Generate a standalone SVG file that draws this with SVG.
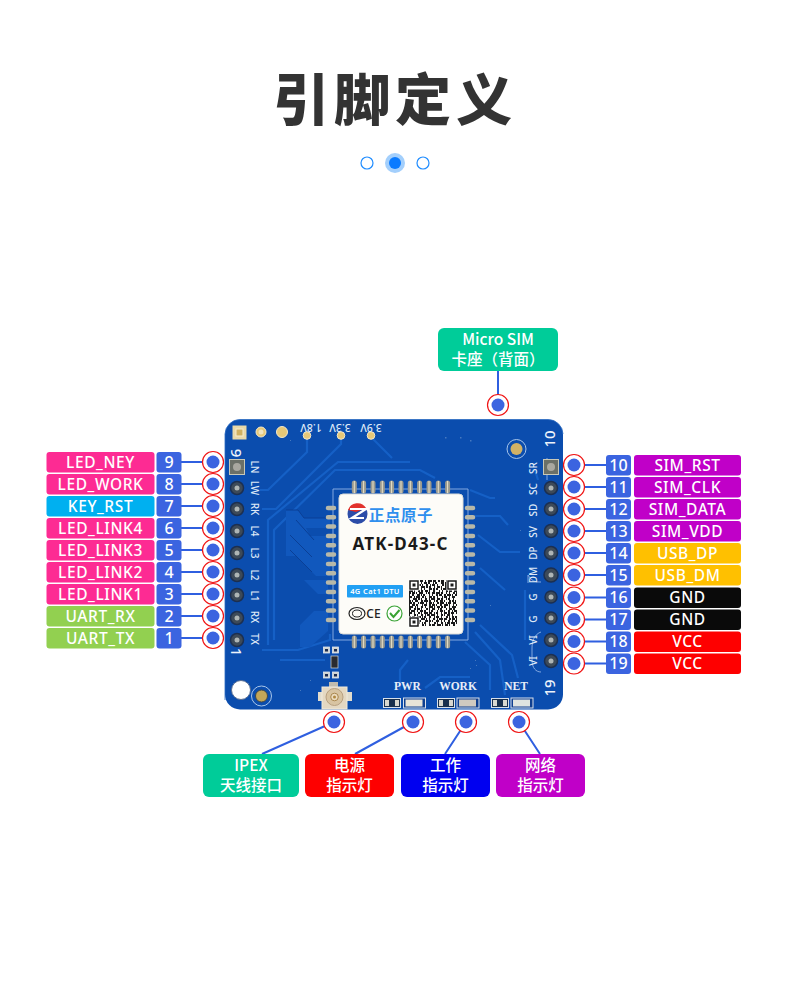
<svg xmlns="http://www.w3.org/2000/svg" width="790" height="1000" viewBox="0 0 790 1000">
<style>
text{font-family:"Noto Sans","Noto Sans CJK SC",sans-serif}
.lb{font-size:15.5px;fill:#fff;text-anchor:middle;font-weight:500;letter-spacing:.6px;font-family:"Noto Sans","Noto Sans CJK SC",sans-serif}
.num{font-size:16px;fill:#fff;text-anchor:middle;font-weight:500}
.cn{font-size:15.5px;fill:#fff;text-anchor:middle;font-weight:500;font-family:"Noto Sans CJK SC",sans-serif}
.ring{fill:#fff;stroke:#f01414;stroke-width:1.2}
.dot{fill:#3b64e0}
.n{fill:#3b64e0}
.wire{stroke:#2f5fe0;stroke-width:2;fill:none}
.silk{font-size:10px;fill:#dfe9f7;text-anchor:middle;font-weight:500}
.big{font-size:15px;fill:#eef3fb;text-anchor:middle;font-weight:500}
.pcbt{font-family:"Liberation Serif",serif;font-size:11.5px;font-weight:bold;fill:#e8eef8;text-anchor:middle}
.tr{fill:none;stroke:#1560c6;stroke-width:2.2}
.tr2{fill:none;stroke:#0a3f96;stroke-width:1}
.pad{fill:#9a9c94;stroke:#e4e0c8;stroke-width:1}
.pin{fill:#3d4a58;stroke:#1c2f50;stroke-width:1.5}
.pinc{fill:#aeb5b5}
.gold{fill:#e6c878;stroke:#f4e8c8;stroke-width:1}
.sl{fill:none;stroke:#8fb2e6;stroke-width:.9}
.qr{fill:none;stroke:#1a1a1a;stroke-width:1.9}
</style>
<rect width="790" height="1000" fill="#fff"/>
<g id="title">
<text x="395" y="120" text-anchor="middle" style="font-family:'Noto Sans CJK SC',sans-serif;font-weight:900;font-size:56px;letter-spacing:5px;fill:#333">引脚定义</text>
<circle cx="367" cy="163" r="6" fill="#fff" stroke="#1f8cff" stroke-width="1.2"/>
<circle cx="395" cy="163" r="10" fill="#a3cffc"/>
<circle cx="395" cy="163" r="6" fill="#0a7bff"/>
<circle cx="423" cy="163" r="6" fill="#fff" stroke="#1f8cff" stroke-width="1.2"/>
</g>
<g id="board">
<rect x="225" y="419.5" width="338" height="290" rx="15" fill="#0b4dae"/>
<path d="M225,700V434a15,15 0 0 1 15,-14.500h308a15,15 0 0 1 15,14.500" fill="none" stroke="#2b6bc2" stroke-width=".8"/>
<g class="traces">
<path class="tr" d="M307,437V452L268,490H260"/>
<path class="tr" d="M341,437V444L276,509H262"/>
<path class="tr" d="M371,437L392,458"/>
<path class="tr" d="M274,640V530L335,470H420L435,478"/>
<path class="tr" d="M268,645V520L338,462H410"/>
<path class="tr" d="M262,650H298L330,640V634"/>
<path class="tr" d="M280,660H325"/>
<path class="tr" d="M470,490L490,498H495"/>
<path class="tr" d="M475,516H500L508,525"/>
<path class="tr" d="M478,535L500,552H520"/>
<path class="tr" d="M480,568L505,590"/>
<path class="tr" d="M465,642L490,665V690"/>
<path class="tr" d="M475,632L500,660L505,695"/>
<path class="tr" d="M480,625L512,655L518,678"/>
<path class="tr" d="M400,690V670L408,660"/>
<path class="tr" d="M425,688L440,677H470"/>
<path class="tr" d="M535,470L538,480M525,590V640"/>
<path fill="#1158bd" d="M286,510h12l6,8h26v10h-24l4,8h20v40h-14l-20,-20h-10zM304,580h24v14h-10zM300,625l14,-14h14v20l-18,16h-10z"/>
<path class="tr2" d="M286,510h12l6,8h26M290,535l22,22M290,550l22,22M296,520l18,20"/>
<path class="sl" d="M333,489H468V640H333Z"/>
<path class="sl" d="M547,458V480M528,583V575A13,13 0 0 0 541,582M541,632C535,634 532,640 532,648V660C532,668 536,672 541,672"/>
<path fill="#8fb0d8" fill-opacity=".45" d="M290,440h1v1h-1zM470,440h1.500v1.500h-1.500zM445,437h1.500v1.500h-1.500zM460,437h1.500v1.500h-1.500zM490,605h1v1h-1zM475,660h1v1h-1zM476,665h1v1h-1zM470,668h1v1h-1zM300,690h1v1h-1zM310,680h1v1h-1zM520,530h1v1h-1z"/>
</g>
<g id="header-left">
<rect x="232.500" y="425.500" width="14" height="14" fill="#e8d8a8"/>
<rect x="236" y="429" width="7" height="7" fill="#d0b060" stroke="#f5ecd0"/>
<circle cx="261" cy="432" r="5" class="gold" stroke-width="2"/><circle cx="261" cy="432" r="2.500" fill="#f0e4c0"/>
<circle cx="282" cy="432" r="5.500" class="gold"/>
<circle cx="341" cy="435.500" r="3.800" class="gold"/><circle cx="307" cy="435.500" r="3.800" class="gold"/><circle cx="371" cy="435.500" r="3.800" class="gold"/>
<text class="silk" transform="rotate(180 311 424)" x="311" y="424" style="font-size:10.5px">1.8V</text>
<text class="silk" transform="rotate(180 340 424)" x="340" y="424" style="font-size:10.5px">3.3V</text>
<text class="silk" transform="rotate(180 371 424)" x="371" y="424" style="font-size:10.5px">3.9V</text>
<circle cx="516.500" cy="449" r="9.500" fill="#0b4dae" stroke="#a9c6ea"/><circle cx="516.500" cy="449" r="6" fill="#d2b266"/>
<circle cx="241" cy="690" r="9.500" fill="#fff" stroke="#5b6f92" stroke-width="1"/>
<circle cx="261.500" cy="696" r="10" fill="#0b4dae" stroke="#a9c6ea"/><circle cx="261.500" cy="696" r="6" fill="#c3a658" stroke="#41484a"/>
</g>
<g id="pins-left">
<rect x="229.500" y="459.500" width="15" height="15" fill="#6b7068" stroke="#c8c8b8"/><circle cx="237" cy="467" r="4" fill="#a9a8a0"/>
<g><circle cx="237" cy="488" r="6.500" class="pin"/><circle cx="237" cy="488" r="2.500" class="pinc"/></g>
<g><circle cx="237" cy="509" r="6.500" class="pin"/><circle cx="237" cy="509" r="2.500" class="pinc"/></g>
<g><circle cx="237" cy="531" r="6.500" class="pin"/><circle cx="237" cy="531" r="2.500" class="pinc"/></g>
<g><circle cx="237" cy="553" r="6.500" class="pin"/><circle cx="237" cy="553" r="2.500" class="pinc"/></g>
<g><circle cx="237" cy="575" r="6.500" class="pin"/><circle cx="237" cy="575" r="2.500" class="pinc"/></g>
<g><circle cx="237" cy="595" r="6.500" class="pin"/><circle cx="237" cy="595" r="2.500" class="pinc"/></g>
<g><circle cx="237" cy="618" r="6.500" class="pin"/><circle cx="237" cy="618" r="2.500" class="pinc"/></g>
<g><circle cx="237" cy="640" r="6.500" class="pin"/><circle cx="237" cy="640" r="2.500" class="pinc"/></g>
<text class="silk" transform="rotate(90 254 467)" x="254" y="470.500">LN</text>
<text class="silk" transform="rotate(90 254 488)" x="254" y="491.500">LW</text>
<text class="silk" transform="rotate(90 254 509)" x="254" y="512.500">RK</text>
<text class="silk" transform="rotate(90 254 531)" x="254" y="534.500">L4</text>
<text class="silk" transform="rotate(90 254 553)" x="254" y="556.500">L3</text>
<text class="silk" transform="rotate(90 254 575)" x="254" y="578.500">L2</text>
<text class="silk" transform="rotate(90 254 596)" x="254" y="599.500">L1</text>
<text class="silk" transform="rotate(90 254 617)" x="254" y="620.500">RX</text>
<text class="silk" transform="rotate(90 254 639)" x="254" y="642.500">TX</text>
<text class="big" transform="rotate(90 236 453)" x="236" y="458">9</text>
<text class="big" transform="rotate(90 236 652)" x="236" y="657">1</text>
</g>
<g id="pins-right">
<rect x="543.500" y="459.500" width="15" height="15" fill="#6b7068" stroke="#c8c8b8"/><circle cx="551" cy="467" r="4" fill="#a9a8a0"/>
<g><circle cx="551" cy="488" r="6.500" class="pin"/><circle cx="551" cy="488" r="2.500" class="pinc"/></g>
<g><circle cx="551" cy="509" r="6.500" class="pin"/><circle cx="551" cy="509" r="2.500" class="pinc"/></g>
<g><circle cx="551" cy="531" r="6.500" class="pin"/><circle cx="551" cy="531" r="2.500" class="pinc"/></g>
<g><circle cx="551" cy="553" r="6.500" class="pin"/><circle cx="551" cy="553" r="2.500" class="pinc"/></g>
<g><circle cx="551" cy="575" r="7" class="pin"/><circle cx="551" cy="575" r="2.500" class="pinc"/></g>
<g><circle cx="551" cy="597" r="6" class="pin"/><circle cx="551" cy="597" r="2.500" class="pinc"/></g>
<g><circle cx="551" cy="618" r="6" class="pin"/><circle cx="551" cy="618" r="2.500" class="pinc"/></g>
<g><circle cx="551" cy="640" r="6.500" class="pin"/><circle cx="551" cy="640" r="2.500" class="pinc"/></g>
<g><circle cx="551" cy="661" r="6.500" class="pin"/><circle cx="551" cy="661" r="2.500" class="pinc"/></g>
<text class="silk" transform="rotate(-90 533 468)" x="533" y="471.500">SR</text>
<text class="silk" transform="rotate(-90 533 489)" x="533" y="492.500">SC</text>
<text class="silk" transform="rotate(-90 533 510)" x="533" y="513.500">SD</text>
<text class="silk" transform="rotate(-90 533 532)" x="533" y="535.500">SV</text>
<text class="silk" transform="rotate(-90 533 553)" x="533" y="556.500">DP</text>
<text class="silk" transform="rotate(-90 533 575)" x="533" y="578.500">DM</text>
<text class="silk" transform="rotate(-90 533 597)" x="533" y="600.500">G</text>
<text class="silk" transform="rotate(-90 533 619)" x="533" y="622.500">G</text>
<text class="silk" transform="rotate(-90 533 640)" x="533" y="643.500">VI</text>
<text class="silk" transform="rotate(-90 533 661)" x="533" y="664.500">VI</text>
<text class="big" transform="rotate(-90 550 439)" x="550" y="444">10</text>
<text class="big" transform="rotate(-90 550 688)" x="550" y="693">19</text>
</g>
<g id="module-pads">
<path stroke="#9a9a90" stroke-width="5" stroke-linecap="round" fill="none" d="M354.300,483v8M363.600,483v8M373,483v8M382.300,483v8M391.600,483v8M401,483v8M410.300,483v8M419.600,483v8M429,483v8M438.300,483v8M447.600,483v8M354.300,638v8M363.600,638v8M373,638v8M382.300,638v8M391.600,638v8M401,638v8M410.300,638v8M419.600,638v8M429,638v8M438.300,638v8M447.600,638v8"/>
<path stroke="#e8e2c8" stroke-width="1" fill="none" d="M354.300,481v12M363.600,481v12M373,481v12M382.300,481v12M391.600,481v12M401,481v12M410.300,481v12M419.600,481v12M429,481v12M438.300,481v12M447.600,481v12M354.300,636v12M363.600,636v12M373,636v12M382.300,636v12M391.600,636v12M401,636v12M410.300,636v12M419.600,636v12M429,636v12M438.300,636v12M447.600,636v12"/>
<path stroke="#b8b8a8" stroke-width="4.500" stroke-linecap="round" fill="none" d="M328,508h6M328,517.300h6M328,526.600h6M328,536h6M328,545.300h6M328,554.600h6M328,564h6M328,573.300h6M328,582.600h6M328,592h6M328,601.300h6M328,610.600h6M328,620h6M467,508h6M467,517.300h6M467,526.600h6M467,536h6M467,545.300h6M467,554.600h6M467,564h6M467,573.300h6M467,582.600h6M467,592h6M467,601.300h6M467,610.600h6M467,620h6"/>
</g>
<g id="module">
<rect x="339" y="494" width="124" height="140" rx="4" fill="#fdfcf8" stroke="#dcdcd8"/>
<circle cx="357.500" cy="514" r="10" fill="#2b4ca8"/>
<path d="M348,510A10,10 0 0 1 366,508L356,512Z" fill="#e2322c"/>
<path d="M350,509H366L352,518H364" fill="none" stroke="#fff" stroke-width="2.200"/>
<text x="401" y="520.500" text-anchor="middle" style="font-family:'Noto Sans CJK SC',sans-serif;font-weight:700;font-size:15.500px;letter-spacing:.6px;fill:#2f8fee">正点原子</text>
<text x="400.500" y="550" text-anchor="middle" style="font-weight:700;font-size:17px;letter-spacing:1.2px;fill:#1a1a1a">ATK-D43-C</text>
<rect x="347" y="585" width="56" height="12.500" rx="1" fill="#22a0f4"/>
<text x="375" y="594" text-anchor="middle" style="font-weight:600;font-size:7.500px;letter-spacing:.4px;fill:#fff">4G Cat1 DTU</text>
<ellipse cx="357" cy="613.500" rx="8" ry="6" fill="none" stroke="#222" stroke-width="1.200"/>
<ellipse cx="357" cy="613.500" rx="4.500" ry="3.500" fill="none" stroke="#222" stroke-width="1"/>
<text x="373.500" y="618" text-anchor="middle" style="font-weight:500;font-size:12px;fill:#222">CE</text>
<circle cx="394.500" cy="613.500" r="7.500" fill="#fff" stroke="#3aa335" stroke-width="1.200"/>
<path d="M390,613l3.500,4l6,-7" fill="none" stroke="#3aa335" stroke-width="2"/>
<g id="qr">
<path class="qr" stroke-dasharray="2 2 1 3 2 1 3 2 1 2 4 1 3 2 2 1 3 2 4" d="M409,581h48"/>
<path class="qr" stroke-dasharray="1 3 2 1 1 4 1 2 3 1 2 3 1 1 2 4 3 1 2 2 3 1" d="M409,583h48"/>
<path class="qr" stroke-dasharray="3 1 2 2 4 1 1 3 2 2 1 1 3 2 1 4 2 1 3 1 2 3" d="M409,585h48"/>
<path class="qr" stroke-dasharray="2 3 1 1 3 2 4 1 2 1 2 3 1 2 3 1 1 3 2 2 4 1" d="M409,587h48"/>
<path class="qr" stroke-dasharray="1 1 3 2 2 3 1 2 1 4 3 1 2 1 2 3 1 1 4 2 2 1" d="M409,589h48"/>
<path class="qr" stroke-dasharray="4 1 1 3 2 1 2 2 3 1 1 3 2 4 1 2 1 3 2 1 3 2" d="M409,591h48"/>
<path class="qr" stroke-dasharray="2 1 3 1 1 2 4 3 1 1 2 2 3 1 4 1 2 3 1 2 1 3" d="M409,593h48"/>
<path class="qr" stroke-dasharray="1 2 2 3 3 1 1 1 2 4 1 2 1 3 2 1 3 2 2 1 4 1" d="M409,595h48"/>
<path class="qr" stroke-dasharray="3 2 1 1 4 2 2 1 1 3 3 1 2 2 1 4 1 1 3 2 1 2" d="M409,597h48"/>
<path class="qr" stroke-dasharray="1 3 4 1 2 1 1 3 2 2 1 1 4 2 3 1 2 3 1 1 2 3" d="M409,599h48"/>
<path class="qr" stroke-dasharray="2 1 1 2 3 3 2 1 4 1 2 3 1 1 2 2 3 1 1 4 2 1" d="M409,601h48"/>
<path class="qr" stroke-dasharray="3 1 2 3 1 1 4 2 1 2 3 1 1 3 2 1 4 2 1 1 3 2" d="M409,603h48"/>
<path class="qr" stroke-dasharray="1 2 3 1 2 4 1 1 3 2 2 1 3 1 1 3 2 2 4 1 1 3" d="M409,605h48"/>
<path class="qr" stroke-dasharray="4 2 1 1 1 3 2 2 1 3 4 1 1 2 3 1 2 1 2 3 1 2" d="M409,607h48"/>
<path class="qr" stroke-dasharray="2 3 2 1 3 1 1 4 2 1 1 2 3 3 1 1 2 4 1 2 3 1" d="M409,609h48"/>
<path class="qr" stroke-dasharray="1 1 4 2 1 2 3 1 2 3 1 1 2 4 1 2 3 1 1 3 2 2" d="M409,611h48"/>
<path class="qr" stroke-dasharray="3 2 1 3 2 1 1 2 4 1 3 2 1 1 2 3 1 2 3 1 2 1" d="M409,613h48"/>
<path class="qr" stroke-dasharray="1 4 2 1 1 3 2 2 1 1 3 1 4 2 1 3 2 1 1 2 3 2" d="M409,615h48"/>
<path class="qr" stroke-dasharray="2 1 3 2 4 1 1 1 2 3 2 3 1 1 3 2 1 4 2 1 1 2" d="M409,617h48"/>
<path class="qr" stroke-dasharray="3 1 1 2 2 3 4 1 1 2 1 3 2 2 1 1 4 1 3 2 2 1" d="M409,619h48"/>
<path class="qr" stroke-dasharray="1 2 2 1 3 1 2 4 3 1 2 1 1 3 3 2 1 2 1 3 2 2" d="M409,621h48"/>
<path class="qr" stroke-dasharray="4 1 2 3 1 2 1 1 2 3 1 4 2 1 1 3 2 2 1 1 3 1" d="M409,623h48"/>
<path class="qr" stroke-dasharray="2 2 1 1 3 4 2 1 1 3 2 1 3 2 4 1 1 2 3 1 1 3" d="M409,625h48"/>
<g fill="#fff" stroke="none">
<rect x="408.500" y="579.500" width="11" height="11"/><rect x="446.500" y="579.500" width="11" height="11"/><rect x="408.500" y="616.500" width="11" height="11"/>
</g>
<g fill="none" stroke="#1a1a1a" stroke-width="1.500">
<rect x="410" y="581" width="8" height="8"/><rect x="448" y="581" width="8" height="8"/><rect x="410" y="618" width="8" height="8"/>
</g>
<g fill="#1a1a1a"><rect x="412.500" y="583.500" width="3" height="3"/><rect x="450.500" y="583.500" width="3" height="3"/><rect x="412.500" y="620.500" width="3" height="3"/></g>
</g>
</g>
<g id="parts">
<g fill="#d0d4d0" stroke="#dfe6ef" stroke-width=".8">
<rect x="323.500" y="647" width="6" height="6"/><rect x="332.500" y="647" width="6" height="6"/>
<rect x="323.500" y="672" width="6" height="6"/><rect x="332.500" y="672" width="6" height="6"/>
</g>
<g fill="#1c2c50"><rect x="325" y="649" width="3" height="2.500"/><rect x="334" y="649" width="3" height="2.500"/><rect x="325" y="674" width="3" height="2.500"/><rect x="334" y="674" width="3" height="2.500"/></g>
<rect x="331" y="656" width="7" height="12" fill="#2a2c30" stroke="#d8dcd8" stroke-width=".7"/>
<g id="ipex-connector">
<rect x="318" y="692" width="5" height="9" fill="#e2dccc"/><rect x="346" y="692" width="6" height="9" fill="#e2dccc"/>
<rect x="329" y="682" width="9" height="8" fill="#c2bcae"/>
<rect x="322" y="687" width="25" height="22" fill="#e4d8c2" stroke="#f0eadc"/>
<circle cx="334.500" cy="697" r="8.500" fill="#d8c4a2" stroke="#b8a080"/>
<circle cx="334.500" cy="697" r="3.800" fill="#ecdcc0" stroke="#aa8850"/><circle cx="334.500" cy="697" r="1.500" fill="#b08840"/>
</g>
<text class="pcbt" x="407.500" y="689.500">PWR</text>
<text class="pcbt" x="458" y="689.500">WORK</text>
<text class="pcbt" x="516" y="689.500">NET</text>
<g id="indicator-parts">
<rect x="383.500" y="698.500" width="17" height="9" fill="#18304e" stroke="#d8e0ea"/><rect x="385" y="700" width="4" height="6" fill="#d8d8d0"/><rect x="395" y="700" width="4" height="6" fill="#d8d8d0"/>
<rect x="403.500" y="698" width="22" height="10" fill="#0e3f90" stroke="#d8e0ea"/><rect x="405.500" y="699.500" width="17" height="7" fill="#e8e4d8"/>
<rect x="437.500" y="698.500" width="17" height="9" fill="#18304e" stroke="#d8e0ea"/><rect x="439" y="700" width="4" height="6" fill="#d8d8d0"/><rect x="449" y="700" width="4" height="6" fill="#d8d8d0"/>
<rect x="457" y="698" width="22" height="10" fill="#0e3f90" stroke="#d8e0ea"/><rect x="459" y="699.500" width="17" height="7" fill="#cfcac0"/>
<rect x="491.500" y="698.500" width="17" height="9" fill="#18304e" stroke="#d8e0ea"/><rect x="493" y="700" width="4" height="6" fill="#d8d8d0"/><rect x="503" y="700" width="4" height="6" fill="#d8d8d0"/>
<rect x="511" y="698" width="22" height="10" fill="#0e3f90" stroke="#d8e0ea"/><rect x="513" y="699.500" width="17" height="7" fill="#dfe4e0"/>
</g>
</g>
</g>
<g id="connectors">
<path class="wire" d="M181,462H213M181,484H213M181,506H213M181,528H213M181,550H213M181,572H213M181,594H213M181,616H213M181,638H213"/>
<path class="wire" d="M574,465H606M574,487H606M574,509H606M574,531H606M574,553H606M574,575H606M574,597.500H606M574,619.500H606M574,641.500H606M574,663.500H606"/>
<path class="wire" d="M498,371V405M334,722L262,754M413,722L355,754M466,722L445,754M519,722L540,754" stroke-width="2.200"/>
</g>
<g id="pin-9"><rect x="46.500" y="452" width="108" height="20.500" rx="3" fill="#fd2b93"/><text class="lb" x="100.500" y="467.500">LED_NEY</text><rect x="156.500" y="452" width="25" height="20.500" rx="3" class="n"/><text class="num" x="169" y="467.500">9</text><circle class="ring" cx="213" cy="462" r="10.500"/><circle class="dot" cx="213" cy="462" r="6.500"/></g>
<g id="pin-8"><rect x="46.500" y="474" width="108" height="20.500" rx="3" fill="#fd2b93"/><text class="lb" x="100.500" y="489.500">LED_WORK</text><rect x="156.500" y="474" width="25" height="20.500" rx="3" class="n"/><text class="num" x="169" y="489.500">8</text><circle class="ring" cx="213" cy="484" r="10.500"/><circle class="dot" cx="213" cy="484" r="6.500"/></g>
<g id="pin-7"><rect x="46.500" y="496" width="108" height="20.500" rx="3" fill="#00b0f0"/><text class="lb" x="100.500" y="511.500">KEY_RST</text><rect x="156.500" y="496" width="25" height="20.500" rx="3" class="n"/><text class="num" x="169" y="511.500">7</text><circle class="ring" cx="213" cy="506" r="10.500"/><circle class="dot" cx="213" cy="506" r="6.500"/></g>
<g id="pin-6"><rect x="46.500" y="518" width="108" height="20.500" rx="3" fill="#fd2b93"/><text class="lb" x="100.500" y="533.500">LED_LINK4</text><rect x="156.500" y="518" width="25" height="20.500" rx="3" class="n"/><text class="num" x="169" y="533.500">6</text><circle class="ring" cx="213" cy="528" r="10.500"/><circle class="dot" cx="213" cy="528" r="6.500"/></g>
<g id="pin-5"><rect x="46.500" y="540" width="108" height="20.500" rx="3" fill="#fd2b93"/><text class="lb" x="100.500" y="555.500">LED_LINK3</text><rect x="156.500" y="540" width="25" height="20.500" rx="3" class="n"/><text class="num" x="169" y="555.500">5</text><circle class="ring" cx="213" cy="550" r="10.500"/><circle class="dot" cx="213" cy="550" r="6.500"/></g>
<g id="pin-4"><rect x="46.500" y="562" width="108" height="20.500" rx="3" fill="#fd2b93"/><text class="lb" x="100.500" y="577.500">LED_LINK2</text><rect x="156.500" y="562" width="25" height="20.500" rx="3" class="n"/><text class="num" x="169" y="577.500">4</text><circle class="ring" cx="213" cy="572" r="10.500"/><circle class="dot" cx="213" cy="572" r="6.500"/></g>
<g id="pin-3"><rect x="46.500" y="584" width="108" height="20.500" rx="3" fill="#fd2b93"/><text class="lb" x="100.500" y="599.500">LED_LINK1</text><rect x="156.500" y="584" width="25" height="20.500" rx="3" class="n"/><text class="num" x="169" y="599.500">3</text><circle class="ring" cx="213" cy="594" r="10.500"/><circle class="dot" cx="213" cy="594" r="6.500"/></g>
<g id="pin-2"><rect x="46.500" y="606" width="108" height="20.500" rx="3" fill="#92d050"/><text class="lb" x="100.500" y="621.500">UART_RX</text><rect x="156.500" y="606" width="25" height="20.500" rx="3" class="n"/><text class="num" x="169" y="621.500">2</text><circle class="ring" cx="213" cy="616" r="10.500"/><circle class="dot" cx="213" cy="616" r="6.500"/></g>
<g id="pin-1"><rect x="46.500" y="628" width="108" height="20.500" rx="3" fill="#92d050"/><text class="lb" x="100.500" y="643.500">UART_TX</text><rect x="156.500" y="628" width="25" height="20.500" rx="3" class="n"/><text class="num" x="169" y="643.500">1</text><circle class="ring" cx="213" cy="638" r="10.500"/><circle class="dot" cx="213" cy="638" r="6.500"/></g>
<g id="pin-10"><rect x="634" y="455" width="107" height="20.500" rx="3" fill="#c000c8"/><text class="lb" x="687.500" y="470.500">SIM_RST</text><rect x="606" y="455" width="25" height="20.500" rx="3" class="n"/><text class="num" x="618.500" y="470.500">10</text><circle class="ring" cx="574" cy="465" r="10.500"/><circle class="dot" cx="574" cy="465" r="6.500"/></g>
<g id="pin-11"><rect x="634" y="477" width="107" height="20.500" rx="3" fill="#c000c8"/><text class="lb" x="687.500" y="492.500">SIM_CLK</text><rect x="606" y="477" width="25" height="20.500" rx="3" class="n"/><text class="num" x="618.500" y="492.500">11</text><circle class="ring" cx="574" cy="487" r="10.500"/><circle class="dot" cx="574" cy="487" r="6.500"/></g>
<g id="pin-12"><rect x="634" y="499" width="107" height="20.500" rx="3" fill="#c000c8"/><text class="lb" x="687.500" y="514.500">SIM_DATA</text><rect x="606" y="499" width="25" height="20.500" rx="3" class="n"/><text class="num" x="618.500" y="514.500">12</text><circle class="ring" cx="574" cy="509" r="10.500"/><circle class="dot" cx="574" cy="509" r="6.500"/></g>
<g id="pin-13"><rect x="634" y="521" width="107" height="20.500" rx="3" fill="#c000c8"/><text class="lb" x="687.500" y="536.500">SIM_VDD</text><rect x="606" y="521" width="25" height="20.500" rx="3" class="n"/><text class="num" x="618.500" y="536.500">13</text><circle class="ring" cx="574" cy="531" r="10.500"/><circle class="dot" cx="574" cy="531" r="6.500"/></g>
<g id="pin-14"><rect x="634" y="543" width="107" height="20.500" rx="3" fill="#ffc000"/><text class="lb" x="687.500" y="558.500">USB_DP</text><rect x="606" y="543" width="25" height="20.500" rx="3" class="n"/><text class="num" x="618.500" y="558.500">14</text><circle class="ring" cx="574" cy="553" r="10.500"/><circle class="dot" cx="574" cy="553" r="6.500"/></g>
<g id="pin-15"><rect x="634" y="565" width="107" height="20.500" rx="3" fill="#ffc000"/><text class="lb" x="687.500" y="580.500">USB_DM</text><rect x="606" y="565" width="25" height="20.500" rx="3" class="n"/><text class="num" x="618.500" y="580.500">15</text><circle class="ring" cx="574" cy="575" r="10.500"/><circle class="dot" cx="574" cy="575" r="6.500"/></g>
<g id="pin-16"><rect x="634" y="587.500" width="107" height="20.500" rx="3" fill="#0a0a0a"/><text class="lb" x="687.500" y="603">GND</text><rect x="606" y="587.500" width="25" height="20.500" rx="3" class="n"/><text class="num" x="618.500" y="603">16</text><circle class="ring" cx="574" cy="597.500" r="10.500"/><circle class="dot" cx="574" cy="597.500" r="6.500"/></g>
<g id="pin-17"><rect x="634" y="609.500" width="107" height="20.500" rx="3" fill="#0a0a0a"/><text class="lb" x="687.500" y="625">GND</text><rect x="606" y="609.500" width="25" height="20.500" rx="3" class="n"/><text class="num" x="618.500" y="625">17</text><circle class="ring" cx="574" cy="619.500" r="10.500"/><circle class="dot" cx="574" cy="619.500" r="6.500"/></g>
<g id="pin-18"><rect x="634" y="631.500" width="107" height="20.500" rx="3" fill="#fe0000"/><text class="lb" x="687.500" y="647">VCC</text><rect x="606" y="631.500" width="25" height="20.500" rx="3" class="n"/><text class="num" x="618.500" y="647">18</text><circle class="ring" cx="574" cy="641.500" r="10.500"/><circle class="dot" cx="574" cy="641.500" r="6.500"/></g>
<g id="pin-19"><rect x="634" y="653.500" width="107" height="20.500" rx="3" fill="#fe0000"/><text class="lb" x="687.500" y="669">VCC</text><rect x="606" y="653.500" width="25" height="20.500" rx="3" class="n"/><text class="num" x="618.500" y="669">19</text><circle class="ring" cx="574" cy="663.500" r="10.500"/><circle class="dot" cx="574" cy="663.500" r="6.500"/></g>
<g id="sim-slot"><rect x="438" y="328" width="120" height="43" rx="6" fill="#00cc99"/><text class="cn" x="498" y="345">Micro SIM</text><text class="cn" x="498" y="365">卡座（背面）</text><circle class="ring" cx="498" cy="405" r="10.500"/><circle class="dot" cx="498" cy="405" r="6.500"/></g>
<g id="ipex"><rect x="203" y="754" width="96" height="43" rx="6" fill="#00cc99"/><text class="cn" x="251" y="771">IPEX</text><text class="cn" x="251" y="791">天线接口</text><circle class="ring" cx="334" cy="722" r="10.500"/><circle class="dot" cx="334" cy="722" r="6.500"/></g>
<g id="power-led"><rect x="305" y="754" width="89" height="43" rx="6" fill="#fe0000"/><text class="cn" x="349.500" y="771">电源</text><text class="cn" x="349.500" y="791">指示灯</text><circle class="ring" cx="413" cy="722" r="10.500"/><circle class="dot" cx="413" cy="722" r="6.500"/></g>
<g id="work-led"><rect x="401" y="754" width="89" height="43" rx="6" fill="#0000f0"/><text class="cn" x="445.500" y="771">工作</text><text class="cn" x="445.500" y="791">指示灯</text><circle class="ring" cx="466" cy="722" r="10.500"/><circle class="dot" cx="466" cy="722" r="6.500"/></g>
<g id="net-led"><rect x="496" y="754" width="89" height="43" rx="6" fill="#c000c8"/><text class="cn" x="540.500" y="771">网络</text><text class="cn" x="540.500" y="791">指示灯</text><circle class="ring" cx="519" cy="722" r="10.500"/><circle class="dot" cx="519" cy="722" r="6.500"/></g>
</svg>
